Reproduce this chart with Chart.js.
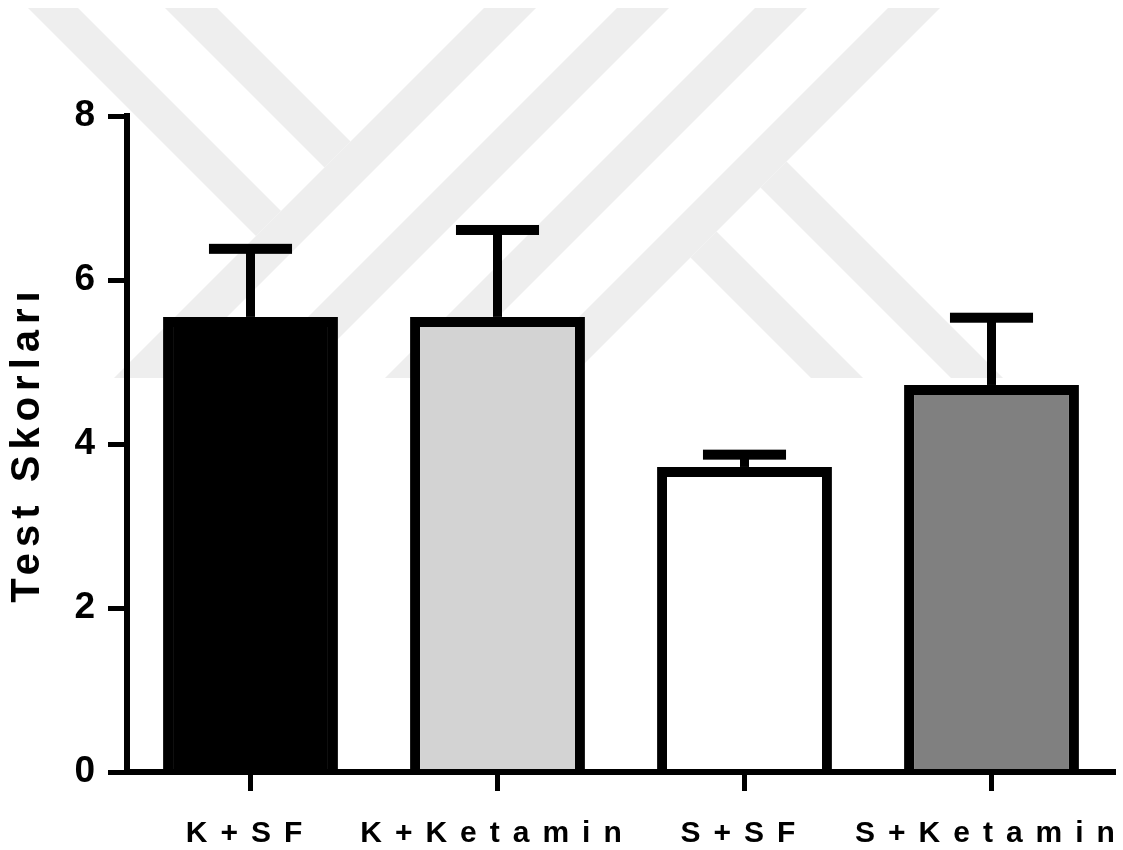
<!DOCTYPE html>
<html lang="tr">
<head>
<meta charset="utf-8">
<title>Test Skorları</title>
<script src="https://cdn.jsdelivr.net/npm/chart.js@4.4.1/dist/chart.umd.min.js"></script>
<style>
  html, body { margin: 0; padding: 0; background: #ffffff; }
  #wrap { width: 1123px; height: 850px; }
</style>
</head>
<body>
<div id="wrap"><canvas id="chart" width="1123" height="850"></canvas></div>
<script>
// Groups and their scores (mean with SEM shown above each bar)
const groups = ['K+SF', 'K+Ketamin', 'S+SF', 'S+Ketamin'];
const meanScores = [5.55, 5.55, 3.72, 4.72];
const semScores = [0.83, 1.06, 0.15, 0.82];
const barFills = ['#000000', '#d3d3d3', '#ffffff', '#808080'];
const yAxisTicks = [0, 2, 4, 6, 8];

const FONT = '"Liberation Sans", Arial, Helvetica, sans-serif';

// Light background emblem made of diagonal strokes
function drawEmblem(ctx) {
  const top = 8, bottom = 378, w = 52, h = bottom - top;
  ctx.save();
  ctx.fillStyle = '#eeeeee';
  const poly = pts => {
    ctx.beginPath();
    ctx.moveTo(pts[0][0], pts[0][1]);
    for (let i = 1; i < pts.length; i++) ctx.lineTo(pts[i][0], pts[i][1]);
    ctx.closePath();
    ctx.fill();
  };
  // long rising strokes, left x at the top edge
  const rising = [484, 617, 755, 888];
  rising.forEach(x => poly([[x, top], [x + w, top], [x + w - h, bottom], [x - h, bottom]]));
  // falling strokes from the top that stop at the first rising stroke
  const k1 = rising[0] + top;
  [[28, 50], [165, 52]].forEach(([x, sw]) => {
    const dl = x - top, dr = x + sw - top;
    poly([[x, top], [x + sw, top], [(k1 + dr) / 2, (k1 - dr) / 2], [(k1 + dl) / 2, (k1 - dl) / 2]]);
  });
  // falling strokes leaving the last rising stroke
  const k2 = rising[3] + w + top;
  [[433, 485], [573, 625]].forEach(([dl, dr]) => {
    poly([[(k2 + dr) / 2, (k2 - dr) / 2], [dr + bottom, bottom], [dl + bottom, bottom], [(k2 + dl) / 2, (k2 - dl) / 2]]);
  });
  ctx.restore();
}

const backdrop = {
  id: 'backdrop',
  beforeDraw(chart) {
    const ctx = chart.ctx;
    ctx.save();
    ctx.fillStyle = '#ffffff';
    ctx.fillRect(0, 0, chart.width, chart.height);
    ctx.restore();
    drawEmblem(ctx);
  }
};

// Wide letter spacing for the category labels and the axis title
const spacedText = {
  id: 'spacedText',
  afterLayout(chart) {
    const xs = chart.scales.x, ys = chart.scales.y;
    if (!xs._spaced) {
      const orig = xs.drawLabels;
      xs.drawLabels = function (area) {
        const c = this.ctx, prev = c.letterSpacing;
        c.letterSpacing = '13px';
        orig.call(this, area);
        c.letterSpacing = prev;
      };
      xs._spaced = true;
    }
    if (!ys._spaced) {
      const orig = ys.drawTitle;
      ys.drawTitle = function (area) {
        const c = this.ctx, prev = c.letterSpacing;
        c.letterSpacing = '6px';
        orig.call(this, area);
        c.letterSpacing = prev;
      };
      ys._spaced = true;
    }
  }
};

// Upper SEM whisker with a flat cap on each bar
const semBars = {
  id: 'semBars',
  afterDatasetsDraw(chart) {
    const ctx = chart.ctx;
    const yScale = chart.scales.y;
    const meta = chart.getDatasetMeta(0);
    ctx.save();
    ctx.fillStyle = '#000000';
    meta.data.forEach((bar, i) => {
      const capY = yScale.getPixelForValue(meanScores[i] + semScores[i]);
      const capW = bar.width * 0.475;
      ctx.fillRect(bar.x - 4.5, capY, 9, bar.y - capY);
      ctx.fillRect(bar.x - capW / 2, capY - 5, capW, 10);
    });
    ctx.restore();
  }
};

new Chart(document.getElementById('chart'), {
  type: 'bar',
  data: {
    labels: groups,
    datasets: [{
      data: meanScores,
      backgroundColor: barFills,
      borderColor: '#000000',
      borderWidth: 10,
      borderSkipped: 'start',
      barPercentage: 0.708,
      categoryPercentage: 1
    }]
  },
  options: {
    responsive: false,
    animation: false,
    devicePixelRatio: 1,
    layout: { padding: { top: 116, right: 8, left: 0, bottom: 0 } },
    plugins: {
      legend: { display: false },
      tooltip: { enabled: false }
    },
    scales: {
      x: {
        offset: true,
        grid: {
          offset: false,
          drawOnChartArea: false,
          drawTicks: true,
          tickLength: 19,
          tickWidth: 5,
          tickColor: '#000000'
        },
        border: { display: true, color: '#000000', width: 6, z: 1 },
        ticks: {
          color: '#000000',
          font: { family: FONT, size: 30, weight: 'bold' },
          padding: 25,
          maxRotation: 0,
          minRotation: 0,
          autoSkip: false
        },
        afterFit(s) { s.height = 78; }
      },
      y: {
        min: 0,
        max: 8,
        afterBuildTicks(s) { s.ticks = yAxisTicks.map(v => ({ value: v })); },
        grid: {
          drawOnChartArea: false,
          drawTicks: true,
          tickLength: 19,
          tickWidth: 5,
          tickColor: '#000000'
        },
        border: { display: true, color: '#000000', width: 6 },
        ticks: {
          color: '#000000',
          font: { family: FONT, size: 37, weight: 'bold' },
          padding: 13
        },
        title: {
          display: true,
          text: 'Test Skorları',
          color: '#000000',
          font: { family: FONT, size: 40, weight: 'bold' },
          padding: { top: 4, bottom: 0 }
        },
        afterFit(s) { s.width = 127; }
      }
    }
  },
  plugins: [backdrop, spacedText, semBars]
});
</script>
</body>
</html>
